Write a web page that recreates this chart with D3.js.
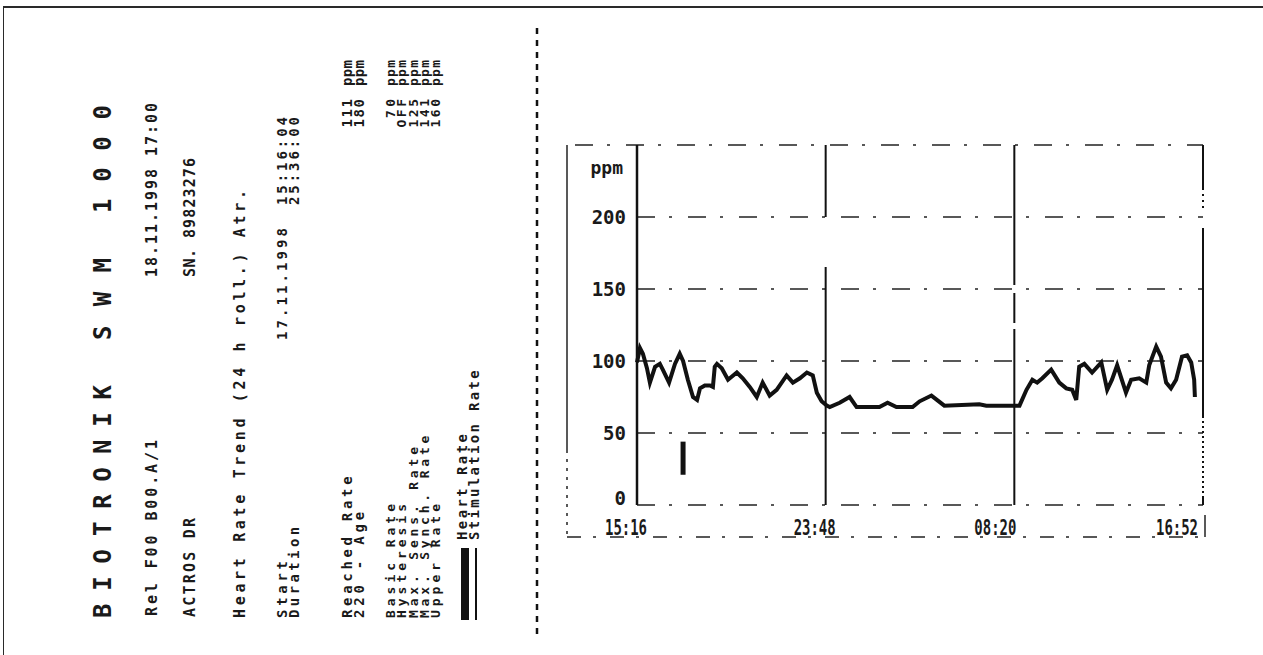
<!DOCTYPE html>
<html>
<head>
<meta charset="utf-8">
<script src="https://cdn.jsdelivr.net/npm/d3@7"></script>
<style>
  body { margin: 0; background: #fff; }
  svg { display: block; }
  text { fill: #1a1a1a; font-family: "DejaVu Sans Mono", "Liberation Mono", monospace; }
</style>
</head>
<body>
<div id="chart"></div>
<script>
// heart rate trend, minutes after start (15:16) and ppm
const hrMinutes = [0, 8, 16, 27, 35, 49, 62, 70, 87, 103, 116, 125, 138, 152, 163, 171, 184, 198, 206, 211,
  217, 230, 247, 271, 287, 306, 325, 341, 360, 379, 406, 423, 442, 461, 477, 488, 501, 515, 523, 550,
  577, 596, 658, 680, 704, 748, 767, 799, 834, 929, 948, 1029, 1038, 1057, 1073, 1086, 1100, 1124, 1146, 1165,
  1181, 1192, 1200, 1214, 1235, 1260, 1276, 1289, 1303, 1327, 1341, 1363, 1382, 1390, 1409, 1422, 1436, 1449, 1463, 1479,
  1493, 1504, 1512, 1514];
const hrValues = [99, 109, 105, 95, 85, 96, 98, 94, 85, 98, 105, 100, 87, 75, 73, 81, 83, 83, 82, 96,
  98, 95, 87, 92, 88, 82, 75, 85, 76, 80, 90, 85, 88, 92, 90, 78, 72, 69, 68, 71,
  75, 68, 68, 71, 68, 68, 72, 76, 69, 70, 69, 69, 69, 80, 87, 85, 88, 94, 85, 81,
  80, 73, 96, 98, 92, 99, 80, 87, 97, 78, 87, 88, 85, 97, 110, 103, 85, 81, 87, 103,
  104, 99, 87, 75];

// stimulation marker (minute, low ppm, high ppm)
const stimMinutes = [125];
const stimLow = [21];
const stimHigh = [44];

const yTicks = [0, 50, 100, 150, 200];
const yMax = 250;
const xTickMinutes = [0, 512, 1024, 1536];
const xTickLabels = ['15:16', '23:48', '08:20', '16:52'];

// printout header
const brandWords = ['BIOTRONIK', 'SWM', '1000'];
const headerLeft = ['Rel F00 B00.A/1', 'ACTROS DR', 'Heart Rate Trend (24 h roll.) Atr.'];
const headerRight = ['18.11.1998 17:00', 'SN.', '89823276'];
const startLabels = ['Start', 'Duration'];
const startDate = '17.11.1998';
const startValues = ['15:16:04', '25:36:00'];
const reachedLabels = ['Reached Rate', '220 - Age'];
const reachedValues = ['111', '180'];
const settingLabels = ['Basic Rate', 'Hysteresis', 'Max. Sens. Rate', 'Max. Synch. Rate', 'Upper Rate'];
const settingValues = ['70', 'OFF', '125', '141', '160'];
const unitLabel = 'ppm';
const legendLabels = ['Heart Rate', 'Stimulation Rate'];

const W = 1263, H = 655;
const svg = d3.select('#chart').append('svg').attr('width', W).attr('height', H);

// paper frame
svg.append('line').attr('x1', 3).attr('x2', W).attr('y1', 7).attr('y2', 7)
  .attr('stroke', '#2a2a2a').attr('stroke-width', 2);
svg.append('line').attr('x1', 3.5).attr('x2', 3.5).attr('y1', 7).attr('y2', H)
  .attr('stroke', '#2a2a2a').attr('stroke-width', 1);

// perforation between the two halves
svg.append('line').attr('x1', 537).attr('x2', 537).attr('y1', 28).attr('y2', 640)
  .attr('stroke', '#111').attr('stroke-width', 2.5).attr('stroke-dasharray', '6,6');

// rotated text helper: reads bottom to top
function vtext(x, y, str, size, len, anchor) {
  const t = svg.append('text')
    .attr('transform', `translate(${x},${y}) rotate(-90)`)
    .attr('font-size', size)
    .attr('font-weight', 'bold')
    .attr('text-anchor', anchor || 'start')
    .text(str);
  if (len) t.attr('textLength', len).attr('lengthAdjust', 'spacing');
  return t;
}

// header block
vtext(111, 618, brandWords[0], 24, 233);
vtext(111, 340, brandWords[1], 24, 82);
vtext(111, 213, brandWords[2], 24, 108);

vtext(157, 616, headerLeft[0], 15, 176);
vtext(157, 277, headerRight[0], 15, 174);
vtext(195, 617, headerLeft[1], 15, 99);
vtext(195, 277, headerRight[1], 15, 28);
vtext(195, 238, headerRight[2], 15, 80);
vtext(245, 618, headerLeft[2], 15, 428);

const startCols = [287, 299];
startLabels.forEach((s, i) => vtext(startCols[i], 618, s, 14, s.length * 11.4));
vtext(startCols[0], 340, startDate, 14, 112);
startValues.forEach((s, i) => vtext(startCols[i], 205, s, 14, 88));

const reachedCols = [352, 364];
reachedLabels.forEach((s, i) => vtext(reachedCols[i], 618, s, 14, s.length * 11.8));
reachedValues.forEach((s, i) => vtext(reachedCols[i], 99, s, 14, s.length * 9.5, 'end'));
reachedCols.forEach(x => vtext(x, 86, unitLabel, 14, 26));

const settingCols = settingLabels.map((s, i) => 395 + i * 11.3);
settingLabels.forEach((s, i) => vtext(settingCols[i], 618, s, 13, s.length * 11.4));
settingValues.forEach((s, i) => vtext(settingCols[i], 99, s, 13, s.length * 9.5, 'end'));
settingCols.forEach(x => vtext(x, 86, unitLabel, 13, 26));

// legend
svg.append('line').attr('x1', 465).attr('x2', 465).attr('y1', 620).attr('y2', 548)
  .attr('stroke', '#111').attr('stroke-width', 8);
svg.append('line').attr('x1', 476).attr('x2', 476).attr('y1', 620).attr('y2', 548)
  .attr('stroke', '#111').attr('stroke-width', 2);
const legendCols = [467, 479];
legendLabels.forEach((s, i) => vtext(legendCols[i], 540, s, 14, s.length * 10.6));

// chart
const x = d3.scaleLinear().domain([0, 1536]).range([637, 1203]);
const y = d3.scaleLinear().domain([0, yMax]).range([505, 145]);

const g = svg.append('g');

// outer box
g.append('line').attr('x1', 567).attr('x2', 567).attr('y1', y(yMax)).attr('y2', 450)
  .attr('stroke', '#222').attr('stroke-width', 1.5);
g.append('line').attr('x1', 567).attr('x2', 567).attr('y1', 450).attr('y2', 537)
  .attr('stroke', '#222').attr('stroke-width', 1.5).attr('stroke-dasharray', '3,6');
g.append('line').attr('x1', 567).attr('x2', x(1536) + 2).attr('y1', 537).attr('y2', 537)
  .attr('stroke', '#222').attr('stroke-width', 1.5).attr('stroke-dasharray', '14,12,3,14');
g.append('line').attr('x1', x(1536) + 2).attr('x2', x(1536) + 2).attr('y1', y(0) + 10).attr('y2', 537)
  .attr('stroke', '#222').attr('stroke-width', 1.5);

// horizontal grid, dashed
g.selectAll('.hgrid').data(yTicks.concat([yMax])).enter().append('line')
  .attr('class', 'hgrid')
  .attr('x1', d => d === yMax ? 575 : x(0))
  .attr('x2', x(1536))
  .attr('y1', d => y(d)).attr('y2', d => y(d))
  .attr('stroke', '#222').attr('stroke-width', 1.5)
  .attr('stroke-dasharray', '18,14,3,16');

// y axis line and time rules
g.append('line').attr('x1', x(0)).attr('x2', x(0)).attr('y1', y(yMax)).attr('y2', y(0))
  .attr('stroke', '#111').attr('stroke-width', 2.5);
g.selectAll('.vgrid').data(xTickMinutes.slice(1, 3)).enter().append('line')
  .attr('class', 'vgrid')
  .attr('x1', d => x(d)).attr('x2', d => x(d))
  .attr('y1', y(yMax)).attr('y2', y(0))
  .attr('stroke', '#111').attr('stroke-width', 2)
  .attr('stroke-dasharray', (d, i) => i === 0 ? '72,50,400' : '140,8,30,6,300');
g.append('line').attr('x1', x(1536)).attr('x2', x(1536)).attr('y1', y(yMax)).attr('y2', y(0))
  .attr('stroke', '#111').attr('stroke-width', 2)
  .attr('stroke-dasharray', '45,4,2,4,2,4,2,20,190,3,2,3,2,3,2,3,2,3,2,3,2,3,2,3,2,3,2,3,2,3,2,3,2,3,2,3,2,3,2,3');

// y labels
g.selectAll('.ylab').data(yTicks).enter().append('text')
  .attr('class', 'ylab')
  .attr('x', 626).attr('y', d => d === 0 ? y(d) : y(d) + 7)
  .attr('text-anchor', 'end')
  .attr('font-size', 19).attr('font-weight', 'bold')
  .text(d => d);
g.append('text').attr('x', 623).attr('y', 174).attr('text-anchor', 'end')
  .attr('font-size', 18).attr('font-weight', 'bold').text(unitLabel);

// x labels
g.selectAll('.xlab').data(xTickMinutes).enter().append('text')
  .attr('class', 'xlab')
  .attr('x', (d, i) => x(d) - (i === 3 ? 47 : 32) + (i === 2 ? -8 : 0))
  .attr('y', 535)
  .attr('font-size', 21).attr('font-weight', 'bold')
  .attr('textLength', 42).attr('lengthAdjust', 'spacingAndGlyphs')
  .text((d, i) => xTickLabels[i]);

// heart rate trace
const line = d3.line().x((d, i) => x(hrMinutes[i])).y(d => y(d)).curve(d3.curveLinear);
g.append('path').datum(hrValues)
  .attr('d', line)
  .attr('fill', 'none').attr('stroke', '#111').attr('stroke-width', 4)
  .attr('stroke-linejoin', 'miter');

// stimulation marker
g.selectAll('.stim').data(stimMinutes).enter().append('line')
  .attr('class', 'stim')
  .attr('x1', d => x(d)).attr('x2', d => x(d))
  .attr('y1', (d, i) => y(stimHigh[i])).attr('y2', (d, i) => y(stimLow[i]))
  .attr('stroke', '#111').attr('stroke-width', 5);
</script>
</body>
</html>
